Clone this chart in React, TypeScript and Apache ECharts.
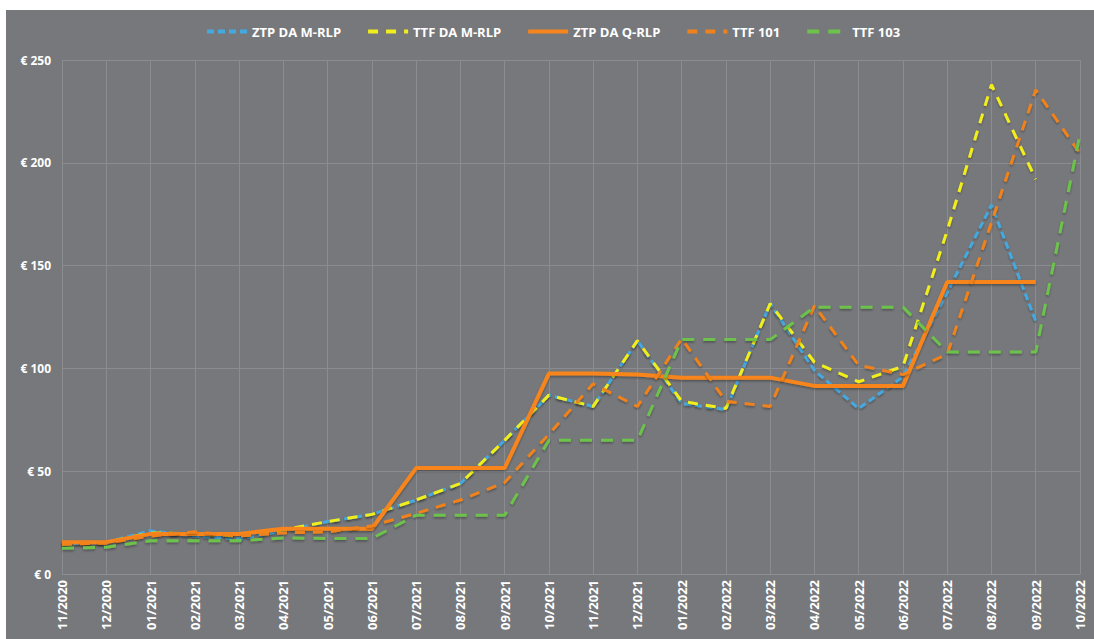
import React, { useEffect, useRef } from "react";
import * as echarts from "echarts";

const categories = [
  "11/2020", "12/2020", "01/2021", "02/2021", "03/2021", "04/2021", "05/2021", "06/2021",
  "07/2021", "08/2021", "09/2021", "10/2021", "11/2021", "12/2021", "01/2022", "02/2022",
  "03/2022", "04/2022", "05/2022", "06/2022", "07/2022", "08/2022", "09/2022", "10/2022",
];

const ztpDaMRlp = [14.5, 15.5, 21, 18.5, 17, 21, 25.5, 29, 36, 44, 65, 87, 81.5, 113.5, 83, 80, 131.5, 99, 80.5, 96, 137, 179.5, 123, null];
const ttfDaMRlp = [14.5, 15.5, 20, 19.5, 18.5, 21.5, 25.5, 29, 36, 44, 65, 87, 81.5, 113.5, 84, 80.5, 131.5, 103, 93.5, 101, 167, 238, 192, null];
const ztpDaQRlp = [15.5, 15.5, 19.5, 19.5, 19.5, 22, 22, 22, 51.5, 51.5, 51.5, 97.5, 97.5, 97, 95.5, 95.5, 95.5, 91.5, 91.5, 91.5, 142, 142, 142, null];
const ttf101 = [14.5, 15, 18.5, 20.5, 18.5, 20, 20.5, 23.5, 29.5, 36, 44.5, 68, 92.5, 81.5, 114.5, 84, 81.5, 130.5, 101.5, 97, 107, 171, 235.5, 204.5];
const ttf103 = [12.5, 13, 16.2, 16.2, 16.2, 17.5, 17.3, 17.3, 28.6, 28.6, 28.6, 65, 65, 65, 114, 114, 114, 129.8, 129.8, 129.8, 108, 108, 108, 214];

const yTicks = { min: 0, max: 250, interval: 50 };

const FONT = "'Open Sans', 'Liberation Sans', sans-serif";

export default function App() {
  const ref = useRef<HTMLDivElement>(null);
  useEffect(() => {
    if (!ref.current) return;
    const chart = echarts.init(ref.current, undefined, { renderer: "svg" });
    const shadow = {
      shadowColor: "rgba(0,0,0,0.35)",
      shadowBlur: 2,
      shadowOffsetY: 1.5,
    };
    const mk = (name: string, data: (number | null)[], color: string, type: any, width: number) => ({
      name,
      type: "line",
      data,
      symbol: "none",
      showSymbol: false,
      connectNulls: false,
      itemStyle: { color },
      lineStyle: { color, width, type, ...shadow },
      emphasis: { disabled: true },
    });
    chart.setOption({
      animation: false,
      backgroundColor: "#76787b",
      textStyle: { fontFamily: FONT },
      legend: {
        top: 10,
        left: 194,
        itemWidth: 40,
        itemHeight: 14,
        itemGap: 25,
        itemStyle: { opacity: 0 },
        lineStyle: { width: 4 },
        textStyle: { color: "#ffffff", fontWeight: "bold", fontSize: 13, fontFamily: FONT },
        data: ["ZTP DA M-RLP", "TTF DA M-RLP", "ZTP DA Q-RLP", "TTF 101", "TTF 103"],
      },
      grid: { left: 56, right: 14, top: 50, bottom: 65, containLabel: false },
      xAxis: {
        type: "category",
        data: categories,
        boundaryGap: false,
        axisLine: { show: true, lineStyle: { color: "#8c8e91", width: 1 } },
        axisTick: { show: false },
        splitLine: { show: true, lineStyle: { color: "#8a8c8f", width: 1 } },
        axisLabel: {
          rotate: 90,
          color: "#ffffff",
          fontWeight: "bold",
          fontSize: 13,
          fontFamily: FONT,
          margin: 6,
          interval: 0,
        },
      },
      yAxis: {
        type: "value",
        min: yTicks.min,
        max: yTicks.max,
        interval: yTicks.interval,
        axisLine: { show: false },
        axisTick: { show: false },
        splitLine: { show: true, lineStyle: { color: "#8a8c8f", width: 1 } },
        axisLabel: {
          color: "#ffffff",
          fontWeight: "bold",
          fontSize: 12,
          fontFamily: FONT,
          margin: 11,
          formatter: (v: number) => "€ " + v,
        },
      },
      series: [
        mk("ZTP DA M-RLP", ztpDaMRlp, "#45a9e0", [7, 4], 3),
        mk("TTF DA M-RLP", ttfDaMRlp, "#f2ee1c", [10, 8], 3),
        mk("ZTP DA Q-RLP", ztpDaQRlp, "#f7851d", "solid", 4),
        mk("TTF 101", ttf101, "#f0821e", [10, 8], 3),
        mk("TTF 103", ttf103, "#6dc24b", [12, 9], 3),
      ],
    });
    return () => chart.dispose();
  }, []);
  return (
    <div
      ref={ref}
      style={{ position: "absolute", left: 6, top: 10, width: 1088, height: 629 }}
    />
  );
}
